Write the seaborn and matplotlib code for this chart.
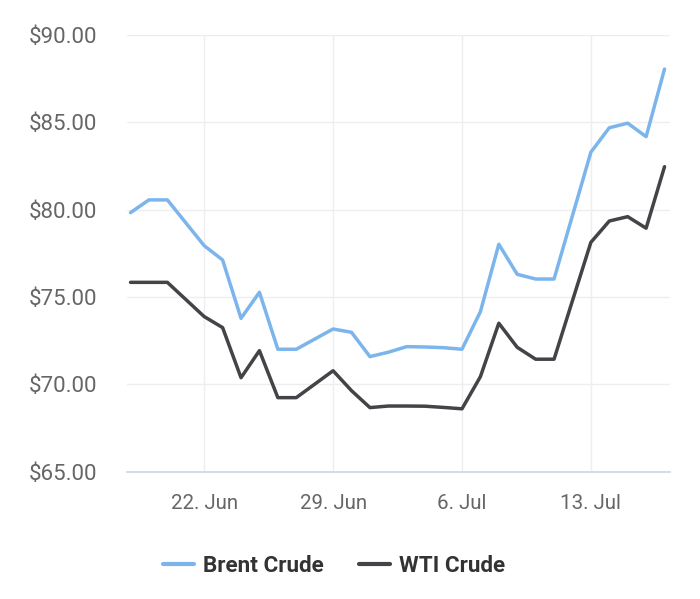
import matplotlib
matplotlib.use("Agg")
import matplotlib.pyplot as plt
import matplotlib.dates as mdates
import seaborn as sns
import pandas as pd
import numpy as np

dates = pd.date_range("2020-06-18", "2020-07-17", freq="D")
brent = [79.83, 80.56, 80.56, 79.25, 77.94, 77.12, 73.78, 75.27, 72.01, 72.01,
         72.59, 73.17, 72.98, 71.59, 71.84, 72.16, 72.14, 72.10, 72.01, 74.16,
         78.02, 76.30, 76.03, 76.03, 79.66, 83.29, 84.69, 84.95, 84.18, 88.05]
wti = [75.84, 75.84, 75.84, 74.86, 73.88, 73.25, 70.38, 71.93, 69.24, 69.24,
       70.01, 70.78, 69.64, 68.67, 68.76, 68.76, 68.75, 68.68, 68.60, 70.44,
       73.50, 72.12, 71.44, 71.44, 74.79, 78.13, 79.35, 79.60, 78.94, 82.46]
series_names = ["Brent Crude", "WTI Crude"]
colors = ["#7cb5ec", "#434348"]
y_ticks = [65, 70, 75, 80, 85, 90]
x_ticks = ["2020-06-22", "2020-06-29", "2020-07-06", "2020-07-13"]

df = pd.concat([
    pd.DataFrame({"date": dates, "price": brent, "series": series_names[0]}),
    pd.DataFrame({"date": dates, "price": wti, "series": series_names[1]}),
])

sns.set_theme(style="white")
plt.rcParams["font.family"] = ["Roboto", "DejaVu Sans"]

fig = plt.figure(figsize=(7.0, 5.99), dpi=100)
ax = fig.add_axes([0.181, 0.2125, 0.957 - 0.181, 0.9416 - 0.2125])

sns.lineplot(data=df, x="date", y="price", hue="series", palette=colors,
             linewidth=2.5, ax=ax, legend=False)

ax.set_ylim(65, 90)
ax.set_xlim(pd.Timestamp("2020-06-18") - pd.Timedelta(hours=5),
            pd.Timestamp("2020-07-17") + pd.Timedelta(hours=7))
ax.set_yticks(y_ticks)
ax.set_yticklabels([f"${v:.2f}" for v in y_ticks])
ax.set_xticks(pd.to_datetime(x_ticks))
ax.xaxis.set_major_formatter(mdates.DateFormatter("%-d. %b"))

ax.grid(True, color="#eeeeee", linewidth=1.0)
ax.set_axisbelow(True)
for s in ["top", "right", "left"]:
    ax.spines[s].set_visible(False)
ax.spines["bottom"].set_color("#ccd6eb")
ax.spines["bottom"].set_linewidth(1.2)

ax.tick_params(axis="y", length=0, pad=21, labelsize=16, labelcolor="#666666")
ax.tick_params(axis="x", length=13, width=1, color="#c8c8c8", pad=3,
               labelsize=14.8, labelcolor="#666666")
ax.set_xlabel("")
ax.set_ylabel("")

from matplotlib.lines import Line2D
handles = [Line2D([0], [0], color=c, linewidth=3) for c in colors]
leg = fig.legend(handles, series_names, loc="center",
                 bbox_to_anchor=(334 / 700, 1 - 566 / 599),
                 ncol=2, frameon=False, handlelength=1.35, handletextpad=0.4,
                 columnspacing=1.6,
                 prop={"family": "Roboto", "weight": "bold", "size": 16.2})
for t in leg.get_texts():
    t.set_color("#333333")

fig.savefig("out.png", dpi=100, facecolor="white")
